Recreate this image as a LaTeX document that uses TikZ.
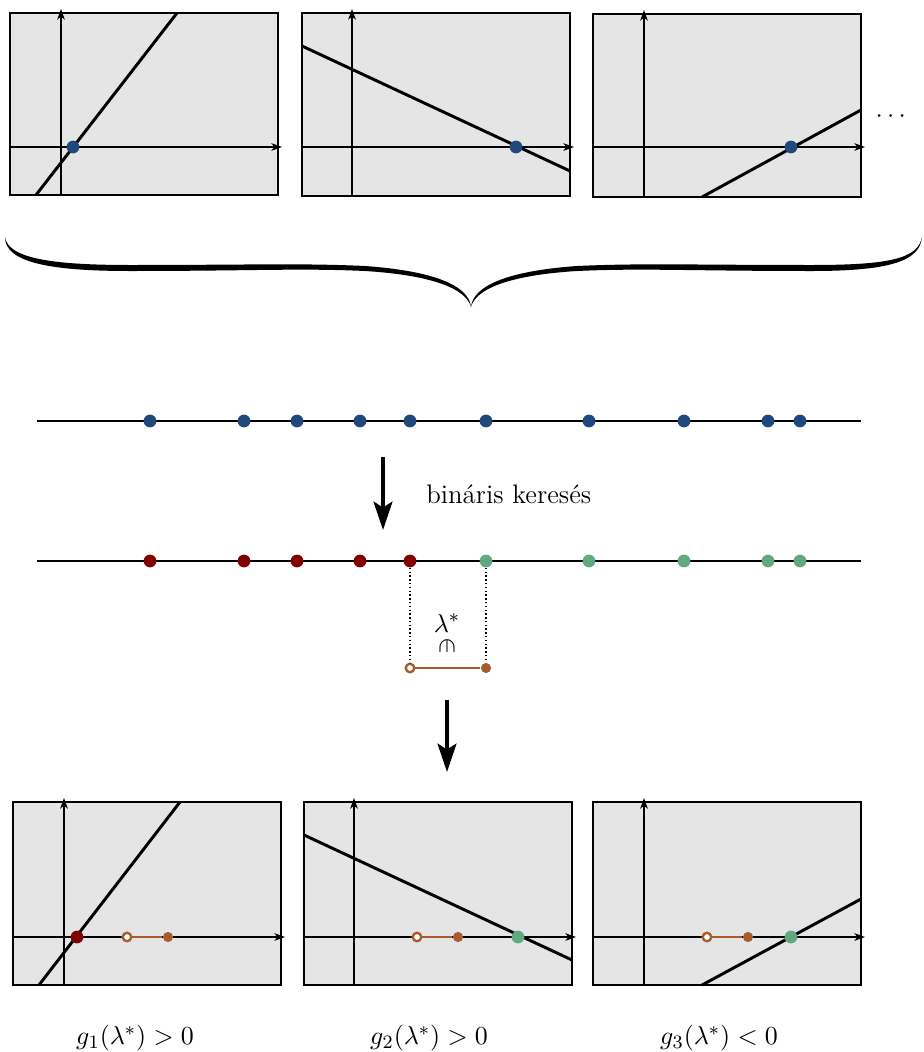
\documentclass[tikz,border=0pt]{standalone}
\usepackage{amsmath,graphicx}
\usetikzlibrary{arrows.meta}
\definecolor{panelgray}{RGB}{229,229,229}
\definecolor{dotblue}{RGB}{31,73,125}
\definecolor{dotred}{RGB}{128,0,0}
\definecolor{dotgreen}{RGB}{98,168,128}
\definecolor{ivbrown}{RGB}{166,92,44}
\begin{document}
\begin{tikzpicture}[x=0.4225pt,y=-0.4225pt,
  font=\fontsize{11.3}{13.5}\selectfont,
  panel/.style={fill=panelgray,draw=black,line width=0.5pt},
  axis/.style={line width=0.55pt,-{Stealth[length=4.5pt,width=3.2pt,inset=1.3pt]}},
  fline/.style={line width=1.25pt},
  numline/.style={line width=0.8pt},
  dot/.style={circle,inner sep=0pt,minimum size=5.4pt},
  bdot/.style={dot,fill=dotblue},
  rdot/.style={dot,fill=dotred},
  gdot/.style={dot,fill=dotgreen},
  ivfull/.style={circle,inner sep=0pt,minimum size=4.3pt,fill=ivbrown},
  ivopen/.style={circle,inner sep=0pt,minimum size=3.6pt,fill=white,draw=ivbrown,line width=1pt},
  ivline/.style={ivbrown,line width=1.1pt},
  bigarrow/.style={line width=1.4pt,-{Stealth[length=12pt,width=8pt,inset=2.5pt]}},
  guide/.style={densely dotted,line width=0.6pt}
]
\useasboundingbox (0,0) rectangle (924,1052);

% ---------- top panels ----------
\draw[panel] (10,13) rectangle (278,195);
\draw[axis] (10,147) -- (282,147);
\draw[axis] (61,195) -- (61,9);
\draw[fline] (36,195) -- (177,13);
\node[bdot] (t1) at (73,147) {};

\draw[panel] (302,13) rectangle (570,196);
\draw[axis] (302,147) -- (574,147);
\draw[axis] (352,196) -- (352,9);
\draw[fline] (302,46) -- (570,171);
\node[bdot] (t2) at (516,147) {};

\draw[panel] (593,14) rectangle (861,197);
\draw[axis] (593,147) -- (865,147);
\draw[axis] (644,197) -- (644,10);
\draw[fline] (702,197) -- (861,110);
\node[bdot] (t3) at (791,147) {};

\node (dots) at (893,117) {$\cdots$};

% ---------- brace ----------
\fill (5,237) .. controls (8,258) and (50,265) .. (130,265)
  .. controls (250,265) and (300,263) .. (365,266)
  .. controls (435,271) and (469,286) .. (471,307)
  .. controls (473,286) and (507,271) .. (577,266)
  .. controls (642,263) and (692,265) .. (812,265)
  .. controls (892,265) and (918,258) .. (922,237)
  .. controls (920,261) and (890,271) .. (812,271)
  .. controls (692,271) and (642,268) .. (577,271)
  .. controls (512,275) and (476,288) .. (471,307)
  .. controls (466,288) and (430,275) .. (365,271)
  .. controls (300,268) and (250,271) .. (130,271)
  .. controls (48,271) and (5,262) .. (5,237) -- cycle;

% ---------- first number line ----------
\coordinate (l1a) at (37,421);
\coordinate (l1b) at (861,421);
\draw[numline] (l1a) -- (l1b);
\foreach \x [count=\i] in {150,244,297,360,410,486,589,684,768,800}
  \node[bdot] (a\i) at (\x,421) {};

\coordinate (ar1s) at (383,457);
\coordinate (ar1e) at (383,530);
\draw[bigarrow] (ar1s) -- (ar1e);
\node[anchor=west] (bk) at (418,494) {bináris keresés};

% ---------- second number line ----------
\coordinate (l2a) at (37,561);
\coordinate (l2b) at (861,561);
\draw[numline] (l2a) -- (l2b);
\foreach \x [count=\i] in {150,244,297,360,410}
  \node[rdot] (r\i) at (\x,561) {};
\foreach \x [count=\i] in {486,589,684,768,800}
  \node[gdot] (g\i) at (\x,561) {};

% interval
\node[ivopen] (io) at (410,668) {};
\node[ivfull] (if) at (486,668) {};
\draw[guide] (r5) -- (io);
\draw[guide] (g1) -- (if);
\draw[ivline] (io) -- (if);
\node (lam) at (447,623) {$\lambda^*$};
\node[rotate=-90] (inn) at (447,646) {$\in$};

\coordinate (ar2s) at (447,700);
\coordinate (ar2e) at (447,772);
\draw[bigarrow] (ar2s) -- (ar2e);

% ---------- bottom panels ----------
\draw[panel] (13,802) rectangle (281,985);
\draw[axis] (13,937) -- (285,937);
\draw[axis] (64,985) -- (64,798);
\draw[fline] (39,985) -- (180,802);
\node[ivopen] (b1o) at (127,937) {};
\node[ivfull] (b1f) at (168,937) {};
\draw[ivline] (b1o) -- (b1f);
\node[rdot] (b1) at (77,937) {};

\draw[panel] (304,802) rectangle (572,985);
\draw[axis] (304,937) -- (576,937);
\draw[axis] (354,985) -- (354,798);
\draw[fline] (304,835) -- (572,960);
\node[ivopen] (b2o) at (417,937) {};
\node[ivfull] (b2f) at (458,937) {};
\draw[ivline] (b2o) -- (b2f);
\node[gdot] (b2) at (518,937) {};

\draw[panel] (593,802) rectangle (861,985);
\draw[axis] (593,937) -- (865,937);
\draw[axis] (644,985) -- (644,798);
\draw[fline] (702,985) -- (861,899);
\node[ivopen] (b3o) at (707,937) {};
\node[ivfull] (b3f) at (748,937) {};
\draw[ivline] (b3o) -- (b3f);
\node[gdot] (b3) at (791,937) {};

\node (c1) at (135,1038) {$g_1(\lambda^*) > 0$};
\node (c2) at (429,1038) {$g_2(\lambda^*) > 0$};
\node (c3) at (719,1038) {$g_3(\lambda^*) < 0$};
\end{tikzpicture}
\end{document}
